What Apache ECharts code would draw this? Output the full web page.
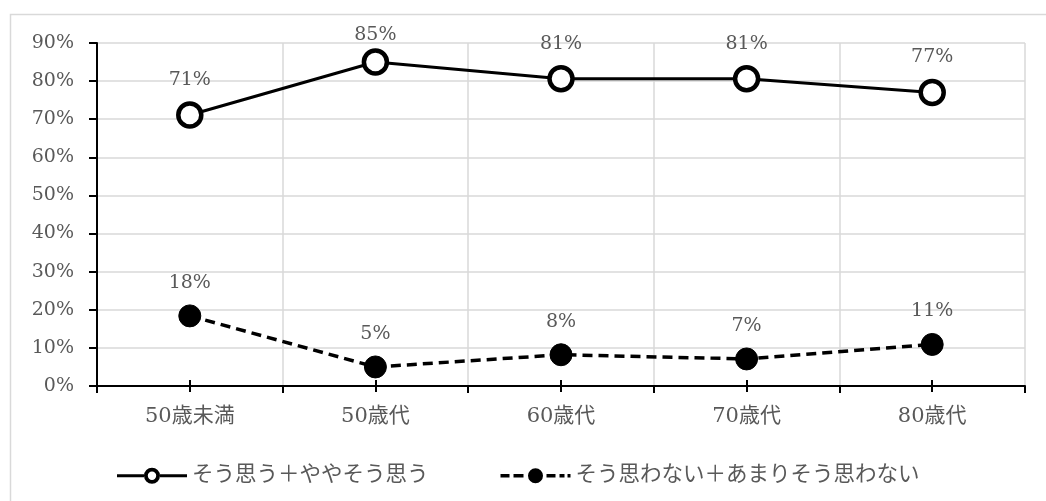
<!DOCTYPE html>
<html>
<head>
<meta charset="utf-8">
<script src="https://cdn.jsdelivr.net/npm/echarts@6/dist/echarts.min.js"></script>
<style>
  html, body { margin: 0; padding: 0; background: #fff; }
  #main { width: 1046px; height: 501px; }
</style>
</head>
<body>
<div id="main"></div>
<script>
// データ
const categories = ['50歳未満', '50歳代', '60歳代', '70歳代', '80歳代'];
const agreeName = 'そう思う＋ややそう思う';
const disagreeName = 'そう思わない＋あまりそう思わない';
const agreeValues = [71.1, 85.0, 80.6, 80.6, 77.0];
const disagreeValues = [18.4, 5.0, 8.2, 7.1, 10.9];
const agreeLabels = ['71%', '85%', '81%', '81%', '77%'];
const disagreeLabels = ['18%', '5%', '8%', '7%', '11%'];

const font = "'DejaVu Serif', 'Noto Sans CJK JP', serif";
const gray = '#595959';

// 凡例アイコン（線＋マーカー）
const ringIcon = 'path://M0 6.5h27v3h-27z M43 6.5h27v3h-27z ' +
  'M27 8A8 8 0 1 1 43 8A8 8 0 1 1 27 8Z M30.8 8A4.2 4.2 0 1 0 39.2 8A4.2 4.2 0 1 0 30.8 8Z';
const dotIcon = 'path://M0 6.3h9v3.4h-9z M13 6.3h10v3.4h-10z ' +
  'M27.5 8A7.5 7.5 0 1 1 42.5 8A7.5 7.5 0 1 1 27.5 8Z ' +
  'M46 6.3h9v3.4h-9z M59 6.3h5v3.4h-5z M67 6.3h3v3.4h-3z M0 0h0.01v16h-0.01z';

const myChart = echarts.init(document.getElementById('main'));

function makeData(values, labels, topIndex) {
  return values.map((v, i) => {
    const d = { value: v, labelText: labels[i] };
    if (i === topIndex) d.label = { distance: 4 };
    return d;
  });
}

const option = {
  animation: false,
  graphic: [{
    type: 'rect',
    shape: { x: 10.5, y: 14.5, width: 1100, height: 600 },
    style: { fill: 'none', stroke: '#d9d9d9', lineWidth: 1.5 },
    silent: true
  }],
  grid: { left: 97, right: 21, top: 43, bottom: 115 },
  legend: {
    left: 112,
    top: 460,
    itemWidth: 70,
    itemHeight: 16,
    itemGap: 72,
    textStyle: { fontFamily: font, fontSize: 21.5, color: gray },
    data: [
      { name: agreeName, icon: ringIcon, itemStyle: { color: '#000', borderWidth: 0 } },
      { name: disagreeName, icon: dotIcon, itemStyle: { color: '#000', borderWidth: 0 } }
    ]
  },
  xAxis: [
    {
      type: 'category',
      data: categories,
      boundaryGap: true,
      axisLine: { lineStyle: { color: '#000', width: 2 } },
      axisTick: { show: true, length: 7, lineStyle: { color: '#000', width: 2 } },
      axisLabel: { fontFamily: font, fontSize: 21, color: gray, margin: 20 },
      splitLine: { show: true, lineStyle: { color: '#d9d9d9', width: 1.5 } }
    },
    {
      type: 'category',
      data: categories,
      position: 'bottom',
      offset: -6,
      axisLine: { show: false },
      axisTick: { show: true, alignWithLabel: true, length: 12, lineStyle: { color: '#000', width: 2 } },
      axisLabel: { show: false },
      splitLine: { show: false }
    }
  ],
  yAxis: {
    type: 'value',
    min: 0,
    max: 90,
    interval: 10,
    axisLine: { show: true, lineStyle: { color: '#000', width: 2 } },
    axisTick: { show: true, length: 8, lineStyle: { color: '#000', width: 2 } },
    axisLabel: { formatter: '{value}%', fontFamily: font, fontSize: 19, color: gray, margin: 23 },
    splitLine: { show: true, lineStyle: { color: '#d9d9d9', width: 1.5 } }
  },
  series: [
    {
      name: agreeName,
      type: 'line',
      data: makeData(agreeValues, agreeLabels, 1),
      symbol: 'circle',
      symbolSize: 23,
      lineStyle: { color: '#000', width: 3 },
      itemStyle: { color: '#fff', borderColor: '#000', borderWidth: 4.5 },
      label: {
        show: true,
        position: 'top',
        distance: 12,
        fontFamily: font,
        fontSize: 19,
        color: gray,
        formatter: p => p.data.labelText
      },
      z: 3
    },
    {
      name: disagreeName,
      type: 'line',
      data: makeData(disagreeValues, disagreeLabels, -1),
      symbol: 'circle',
      symbolSize: 22,
      lineStyle: { color: '#000', width: 3.5, type: [10, 6] },
      itemStyle: { color: '#000', borderColor: '#000', borderWidth: 1 },
      label: {
        show: true,
        position: 'top',
        distance: 12,
        fontFamily: font,
        fontSize: 19,
        color: gray,
        formatter: p => p.data.labelText
      },
      z: 3
    }
  ]
};

myChart.setOption(option);
</script>
</body>
</html>
